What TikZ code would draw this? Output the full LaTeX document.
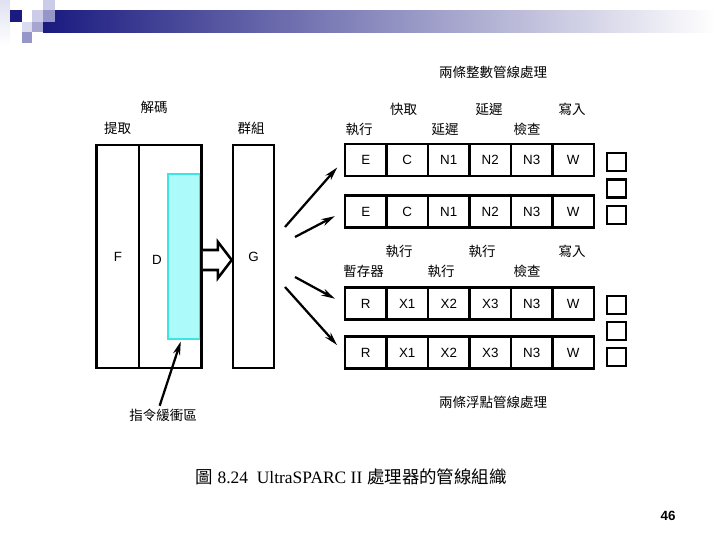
\documentclass[tikz,border=0pt]{standalone}
\usepackage{fontspec}
\setmainfont{Liberation Sans}
\newfontfamily\cjk{Noto Sans CJK TC}
\newfontfamily\capserif{Liberation Serif}
\usetikzlibrary{shapes,arrows.meta,positioning,calc}
\definecolor{navy}{RGB}{26,26,128}
\definecolor{lavlight}{RGB}{204,204,232}
\definecolor{lavmid}{RGB}{150,150,200}
\definecolor{bufcyan}{RGB}{172,250,250}
\definecolor{bufedge}{RGB}{60,228,228}
\tikzset{
  >=Stealth,
  stagebox/.style={draw,line width=1.8pt,minimum height=5.575cm,inner sep=0pt,font=\fontsize{9.5pt}{11pt}\selectfont},
  cell/.style={draw,line width=1.8pt,minimum width=1.0375cm,minimum height=0.8cm,inner sep=0pt,font=\fontsize{9.5pt}{11pt}\selectfont},
  slot/.style={draw,line width=1.5pt,minimum width=0.475cm,minimum height=0.45cm,inner sep=0pt},
  lbl/.style={font=\cjk\fontsize{9.6pt}{11pt}\selectfont,inner sep=0pt},
  fan/.style={-{Stealth[length=3.4mm,width=1.8mm]},line width=1.6pt,shorten >=0.25cm},
  hollow/.style={draw,line width=1.8pt,fill=white,line join=miter}
}
\begin{document}
\begin{tikzpicture}[x=0.025cm,y=-0.025cm]
\useasboundingbox (0,0) rectangle (720,540);
% slide header
\shade[top color=lavlight!60,bottom color=white] (0,0) rectangle (10,45);
\shade[left color=navy,right color=white] (43,10) rectangle (716,32);
\fill[navy] (10,10) rectangle (22,22);
\fill[lavlight] (32,10) rectangle (43,22);
\fill[lavlight] (43,0) rectangle (55,10);
\fill[lavmid] (43,10) rectangle (55,22);
\fill[lavlight!70] (22,22) rectangle (32,32);
\fill[lavmid!85] (32,22) rectangle (43,32);
\fill[lavmid] (22,32) rectangle (32,43);

% front end
\node[draw=bufedge,fill=bufcyan,line width=1.5pt,minimum width=0.8cm,minimum height=4.125cm,inner sep=0pt] (buffer) at (184,256.5) {};
\node[stagebox,minimum width=1.0575cm] (fetch) at (117.85,256.5) {F};
\node[stagebox,minimum width=1.5675cm] (dec) at (170.35,256.5) {};
\node[font=\fontsize{9.5pt}{11pt}\selectfont] at (157,260) {D};
\node[stagebox,minimum width=1.025cm] (grp) at (253.5,256.5) {G};
% wide arrow from D to G
\coordinate (pass) at ($(dec.east)+(0,3.5)$);
\draw[hollow] ($(pass)+(0,-10)$) -- ++(15,0) -- ++(0,-8) -- ($(grp.west)+(0,3.5)$)
  -- ($(pass)+(15,18)$) -- ++(0,-8) -- ($(pass)+(0,10)$);

\node[lbl] (lfetch) at (117.5,128.5) {提取};
\node[lbl] (ldec) at (154,107) {解碼};
\node[lbl] (lgrp) at (251,128.5) {群組};

% integer pipelines
\foreach \t [count=\i] in {E,C,N1,N2,N3,W} {
  \node[cell] (i1-\i) at ({345+41.5*(\i-0.5)},160) {\t};
  \node[cell] (i2-\i) at ({345+41.5*(\i-0.5)},211.5) {\t};
}
% floating point pipelines
\foreach \t [count=\i] in {R,X1,X2,X3,N3,W} {
  \node[cell] (f1-\i) at ({345+41.5*(\i-0.5)},303.5) {\t};
  \node[cell] (f2-\i) at ({345+41.5*(\i-0.5)},352.5) {\t};
}
\foreach \y [count=\i] in {162,188.5,215,305,331,357}
  \node[slot] (q\i) at (616.5,\y) {};

\node[lbl] (ti) at (493,72.5) {兩條整數管線處理};
\node[lbl] at (403.5,109) {快取};
\node[lbl] at (489,109) {延遲};
\node[lbl] at (572,109) {寫入};
\node[lbl] at (359,129) {執行};
\node[lbl] at (445,129) {延遲};
\node[lbl] at (527,129) {檢查};

\node[lbl] at (399,251) {執行};
\node[lbl] at (482,251) {執行};
\node[lbl] at (572,251) {寫入};
\node[lbl] at (363.5,271) {暫存器};
\node[lbl] at (441,271) {執行};
\node[lbl] at (527,271) {檢查};
\node[lbl] (tf) at (493,402.5) {兩條浮點管線處理};

% dispatch arrows
\coordinate (s1) at (285,227);
\coordinate (s2) at (295,237);
\coordinate (s3) at (295,277);
\coordinate (s4) at (285,287);
\draw[fan] (s1) -- (i1-1.west);
\draw[fan] (s2) -- (i2-1.west);
\draw[fan] (s3) -- (f1-1.west);
\draw[fan] (s4) -- (f2-1.west);

\node[lbl] (lbuf) at (163,415) {指令緩衝區};
\draw[fan,shorten >=1pt,shorten <=2pt] ([xshift=-3pt]lbuf.north) -- ([xshift=-2pt]buffer.south);

\node[font=\fontsize{12.4pt}{14pt}\selectfont] (cap) at (351,477)
  {{\cjk 圖} {\capserif 8.24\ \ UltraSPARC II} {\cjk 處理器的管線組織}};
\node[font=\bfseries\fontsize{9.5pt}{11pt}\selectfont] (page) at (668,516) {46};
\end{tikzpicture}
\end{document}
